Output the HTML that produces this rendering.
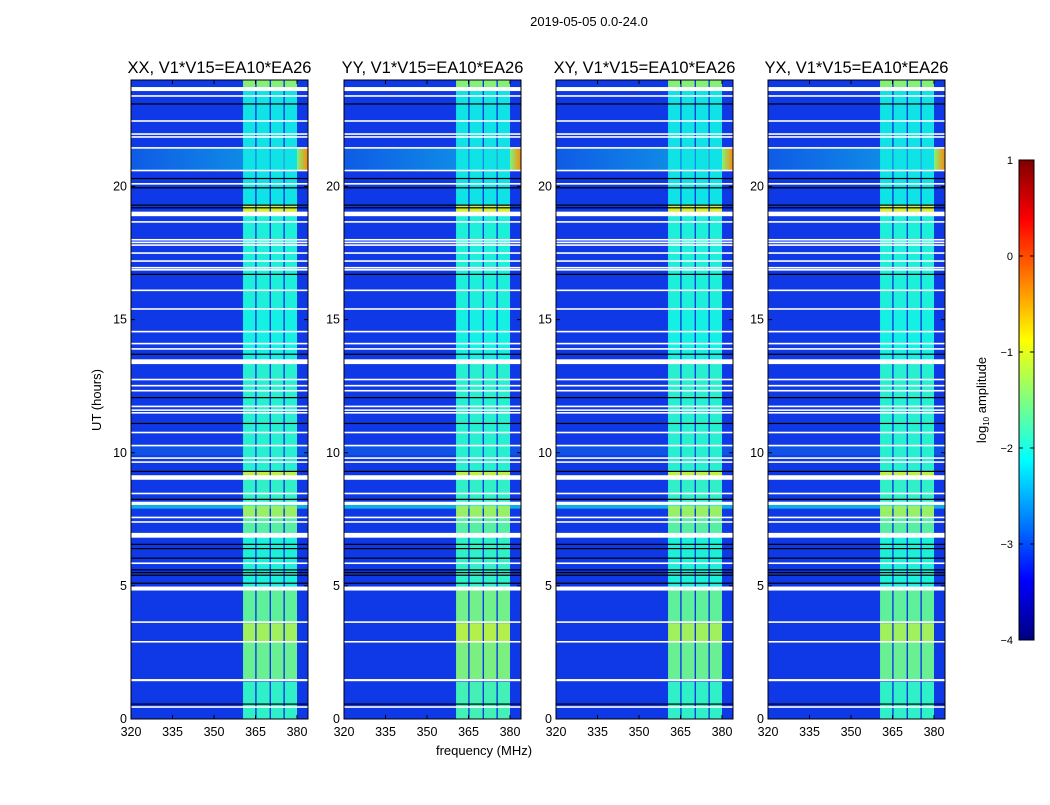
<!DOCTYPE html>
<html><head><meta charset="utf-8">
<style>
body{margin:0;background:#fff;}
svg text{font-family:"Liberation Sans",sans-serif;}
</style></head>
<body>
<svg id="chart" width="1050" height="800" viewBox="0 0 1050 800" xmlns="http://www.w3.org/2000/svg">
<text x="589" y="26" font-size="13" text-anchor="middle">2019-05-05 0.0-24.0</text>
<g id="panels"></g>
<text x="484" y="755" font-size="13" text-anchor="middle">frequency (MHz)</text>
<text transform="translate(101,400) rotate(-90)" font-size="13" text-anchor="middle">UT (hours)</text>
<g id="cbar"></g>
</svg>
<script>
const panelTitles = ["XX, V1*V15=EA10*EA26","YY, V1*V15=EA10*EA26","XY, V1*V15=EA10*EA26","YX, V1*V15=EA10*EA26"];
const xTicks = [320,335,350,365,380];
const yTicks = [0,5,10,15,20];
const cbTicks = [-4,-3,-2,-1,0,1];
const bgLevel = -3.15;
// frequency bands [start MHz, end MHz]
const bands = [[360.5,364.9],[365.4,370.1],[370.6,375.1],[375.6,380]];
// band activity segments [startHour, endHour, log10 amplitude]
const bandSegs = [[0,1.4,-1.95],[1.5,2.9,-1.65],[2.9,3.6,-1.35],[3.6,4.9,-1.7],[4.9,6.9,-2.05],[6.9,7.6,-1.75],[7.6,8.0,-1.4],[8.0,9.1,-1.95],[9.1,9.3,-1.2],[9.3,13.4,-2.0],[13.4,15.4,-2.1],[15.4,19.0,-2.05],[19.0,19.3,-1.1],[19.3,23.7,-2.2],[23.7,24,-1.5]];
// hot horizontal stripe [startHour, endHour, level]
const hotRows = [[20.6,21.45,-2.6],[9.9,10.3,-3.0],[7.9,8.05,-2.5]];
// white (missing) rows [hour, width hours]
const whiteLines = [[23.66,0.15],[23.4,0.06],[22.46,0.06],[21.97,0.06],[21.86,0.06],[21.45,0.06],[20.6,0.06],[20.1,0.06],[18.97,0.17],[18.67,0.06],[18.0,0.06],[17.9,0.06],[17.8,0.06],[17.5,0.06],[17.2,0.06],[16.95,0.06],[16.87,0.06],[16.1,0.06],[15.4,0.06],[14.55,0.06],[14.1,0.06],[13.9,0.06],[13.42,0.18],[12.75,0.06],[12.52,0.06],[12.33,0.06],[11.74,0.06],[11.6,0.06],[11.5,0.06],[10.76,0.06],[10.27,0.06],[9.8,0.06],[9.65,0.06],[9.07,0.17],[8.47,0.06],[8.1,0.12],[7.57,0.06],[7.4,0.06],[6.9,0.18],[5.85,0.06],[4.9,0.15],[3.64,0.06],[2.9,0.06],[1.46,0.08],[0.45,0.06]];
const blackLines = [[23.1,0.05],[20.3,0.05],[19.95,0.05],[19.3,0.05],[19.2,0.05],[16.7,0.05],[13.7,0.05],[12.07,0.05],[11.1,0.05],[9.3,0.05],[8.25,0.05],[6.56,0.05],[6.4,0.05],[6.04,0.05],[5.6,0.05],[5.5,0.05],[5.4,0.05],[5.1,0.05],[0.56,0.05]];

const panelX0 = [131,344,556,768];
const pw = 177, plotTop = 80, plotBottom = 719;
const fmin = 320, pxPerMHz = 166/60;
const NS = "http://www.w3.org/2000/svg";
function yScale(h){ return plotBottom - h*(plotBottom-plotTop)/24; }
function xScale(f,x0){ return x0 + (f-fmin)*pxPerMHz; }
function clamp(v){ return Math.max(0,Math.min(1,v)); }
function jet(level){
  const t = (level+4)/5;
  const r=clamp(1.5-Math.abs(4*t-3)), g=clamp(1.5-Math.abs(4*t-2)), b=clamp(1.5-Math.abs(4*t-1));
  return `rgb(${Math.round(r*235)+15},${Math.round(g*225)+15},${Math.round(b*220)+10})`;
}
function jetPure(level){
  const t = (level+4)/5;
  const r=clamp(1.5-Math.abs(4*t-3)), g=clamp(1.5-Math.abs(4*t-2)), b=clamp(1.5-Math.abs(4*t-1));
  return `rgb(${Math.round(r*255)},${Math.round(g*255)},${Math.round(b*255)})`;
}
function mk(tag, attrs, parent){
  const e = document.createElementNS(NS, tag);
  for (const k in attrs) e.setAttribute(k, attrs[k]);
  parent.appendChild(e); return e;
}
const panels = document.getElementById('panels');
const defs = mk('defs',{},panels);
const lg = mk('linearGradient',{id:'hotgrad',x1:'0',x2:'1',y1:'0',y2:'0'},defs);
mk('stop',{offset:'0','stop-color':jet(-2.95)},lg);
mk('stop',{offset:'0.85','stop-color':jet(-2.6)},lg);
mk('stop',{offset:'0.94','stop-color':jet(-1.5)},lg);
mk('stop',{offset:'1','stop-color':jet(-0.3)},lg);

panelX0.forEach((x0,pi)=>{
  const g = mk('g',{},panels);
  
  
  const bg = mk('rect',{x:x0,y:plotTop,width:pw,height:plotBottom-plotTop,fill:jet(bgLevel)},g);
  
  
  hotRows.forEach(r=>{
    const e = mk('rect',{x:x0,y:yScale(r[1]),width:pw,height:yScale(r[0])-yScale(r[1]),fill:r[0]>20?'url(#hotgrad)':jet(r[2])},g);
    
    
  });
  bandSegs.forEach(s=>{
    bands.forEach(b=>{
      const e = mk('rect',{x:xScale(b[0],x0),y:yScale(s[1]),width:xScale(b[1],x0)-xScale(b[0],x0),height:yScale(s[0])-yScale(s[1]),fill:jet(s[2]+(pi===1&&s[0]<5?0.1:0))},g);
      
      
    });
  });
  whiteLines.forEach(l=>{
    const h = Math.max(1.5,(l[1])*(plotBottom-plotTop)/24);
    const e = mk('rect',{x:x0,y:yScale(l[0])-h/2,width:pw,height:h,fill:'#fff'},g);
    
    
  });
  blackLines.forEach(l=>{
    const e = mk('rect',{x:x0,y:yScale(l[0])-0.6,width:pw,height:1.2,fill:'#000'},g);
    
    
  });
  const fr = mk('rect',{x:x0,y:plotTop,width:pw,height:plotBottom-plotTop,fill:'none',stroke:'#000','stroke-width':1},g);
  
  
  const t = mk('text',{x:x0+pw/2,y:plotTop-7,'font-size':16.5,'text-anchor':'middle'},g);
  t.textContent = panelTitles[pi];
  
  
  xTicks.forEach(v=>{
    const x = xScale(v,x0);
    mk('line',{x1:x,x2:x,y1:plotBottom,y2:plotBottom-4,stroke:'#000'},g);
    mk('line',{x1:x,x2:x,y1:plotTop,y2:plotTop+4,stroke:'#000'},g);
    const tl = mk('text',{x:x,y:plotBottom+17,'font-size':12.5,'text-anchor':'middle'},g);
    tl.textContent = v;
    
    
  });
  yTicks.forEach(v=>{
    const y = yScale(v);
    mk('line',{x1:x0,x2:x0+4,y1:y,y2:y,stroke:'#000'},g);
    mk('line',{x1:x0+pw,x2:x0+pw-4,y1:y,y2:y,stroke:'#000'},g);
    const tl = mk('text',{x:x0-4,y:y+4,'font-size':12.5,'text-anchor':'end'},g);
    tl.textContent = v;
    
    
  });
});

// colorbar
const cb = document.getElementById('cbar');


const cgr = mk('linearGradient',{id:'cbgrad',x1:'0',x2:'0',y1:'1',y2:'0'},defs);
for(let i=0;i<=40;i++){ mk('stop',{offset:i/40,'stop-color':jetPure(-4+5*i/40)},cgr); }
const cbTop=160, cbBot=640, cbX=1019, cbW=15;
mk('rect',{x:cbX,y:cbTop,width:cbW,height:cbBot-cbTop,fill:'url(#cbgrad)',stroke:'#000','stroke-width':1},cb);
cbTicks.forEach(v=>{
  const y = cbBot - (v+4)/5*(cbBot-cbTop);
  mk('line',{x1:cbX,x2:cbX+4,y1:y,y2:y,stroke:'#000'},cb);
  mk('line',{x1:cbX+cbW,x2:cbX+cbW-4,y1:y,y2:y,stroke:'#000'},cb);
  const tl = mk('text',{x:1013,y:y+4,'font-size':11,'text-anchor':'end'},cb);
  tl.textContent = v<0 ? '\u2212'+Math.abs(v) : String(v);
  
  
});
const cl = mk('text',{transform:'translate(986,400) rotate(-90)','font-size':13,'text-anchor':'middle'},cb);
cl.innerHTML = 'log<tspan font-size="8" dy="3">10</tspan><tspan dy="-3"> amplitude</tspan>';


</script>
</body></html>
